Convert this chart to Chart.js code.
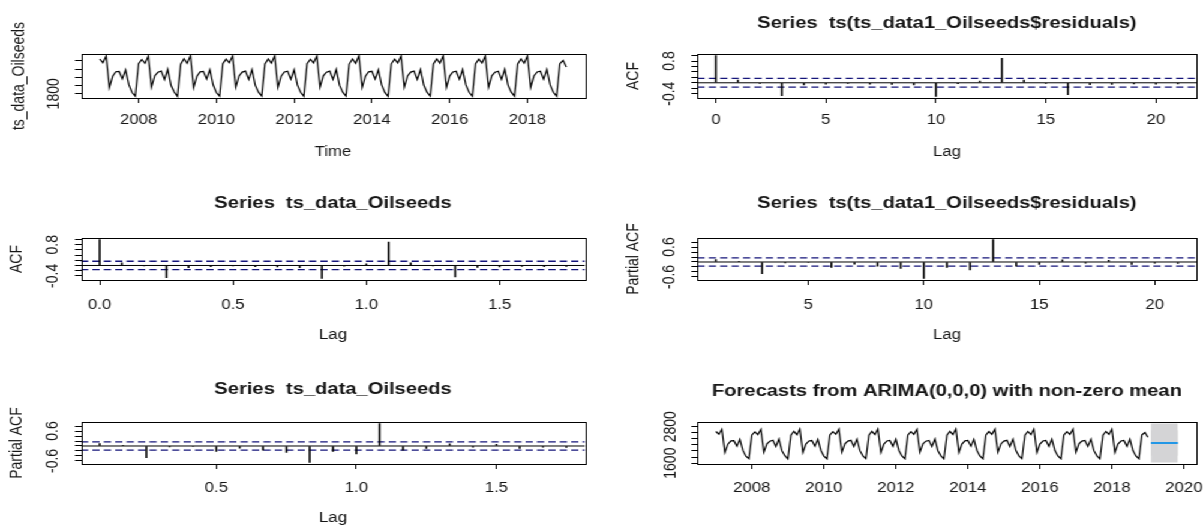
<!DOCTYPE html>
<html>
<head>
<meta charset="utf-8">
<script src="https://cdn.jsdelivr.net/npm/chart.js@4.4.0/dist/chart.umd.min.js"></script>
<style>
  body { margin: 0; background: #fff; width: 1204px; height: 529px; overflow: hidden; }
  #page { position: absolute; left: 0; top: 0; height: 529px; transform-origin: 0 0; }
</style>
</head>
<body>
<div id="page"></div>
<script>
// ---- data ----
const startYear = 2007;   // monthly series, Jan 2007 .. Jan 2019
const oilseeds = [
  2642, 2551, 2716, 1948, 2224, 2335, 2341, 2160, 2380, 2020, 1830, 1745,
  2530, 2630, 2540, 2712, 1962, 2238, 2320, 2352, 2145, 2395, 2008, 1845, 1738,
  2518, 2648, 2536, 2724, 1950, 2226, 2331, 2344, 2158, 2384, 2018, 1832, 1742,
  2527, 2639, 2549, 2718, 1958, 2233, 2325, 2350, 2149, 2390, 2011, 1840, 1747,
  2521, 2645, 2541, 2721, 1953, 2228, 2330, 2346, 2155, 2386, 2016, 1836, 1740,
  2529, 2637, 2547, 2715, 1960, 2235, 2323, 2349, 2150, 2392, 2010, 1841, 1744,
  2520, 2646, 2539, 2722, 1951, 2227, 2333, 2345, 2157, 2385, 2017, 1835, 1739,
  2526, 2640, 2548, 2717, 1957, 2232, 2326, 2351, 2148, 2389, 2012, 1839, 1746,
  2522, 2644, 2542, 2720, 1954, 2229, 2329, 2347, 2154, 2387, 2015, 1837, 1741,
  2528, 2638, 2546, 2716, 1959, 2234, 2324, 2348, 2151, 2391, 2011, 1840, 1743,
  2523, 2643, 2543, 2719, 1955, 2230, 2328, 2346, 2153, 2388, 2014, 1838, 1742,
  2530, 2610, 2450
];

const acfLags = [0, 1, 2, 3, 4, 5, 6, 7, 8, 9, 10, 11, 12, 13, 14, 15, 16, 17, 18, 19, 20, 21];
const acfValues = [1.00, 0.10, -0.02, -0.47, -0.08, -0.05, -0.02, -0.05, -0.06, -0.08, -0.50,
                   -0.03, 0.06, 0.90, 0.10, -0.02, -0.44, -0.07, -0.06, -0.04, -0.05, -0.04];
const pacfLags = [1, 2, 3, 4, 5, 6, 7, 8, 9, 10, 11, 12, 13, 14, 15, 16, 17, 18, 19, 20, 21];
const pacfValues = [0.10, 0.03, -0.47, -0.04, -0.02, -0.22, -0.09, -0.17, -0.26, -0.66, -0.22,
                    -0.32, 0.90, -0.17, -0.10, 0.09, -0.05, 0.07, -0.10, -0.05, -0.06];

// ARIMA(0,0,0) forecast, 10 months ahead
const fcMean = [2263, 2263, 2263, 2263, 2263, 2263, 2263, 2263, 2263, 2263];
const fcLo80 = [1843, 1843, 1843, 1843, 1843, 1843, 1843, 1843, 1843, 1843];
const fcHi80 = [2683, 2683, 2683, 2683, 2683, 2683, 2683, 2683, 2683, 2683];
const fcLo95 = [1623, 1623, 1623, 1623, 1623, 1623, 1623, 1623, 1623, 1623];
const fcHi95 = [2903, 2903, 2903, 2903, 2903, 2903, 2903, 2903, 2903, 2903];

// ticks
const yearTicks = [2008, 2010, 2012, 2014, 2016, 2018];
const fcYearTicks = [2008, 2010, 2012, 2014, 2016, 2018, 2020];
const lagTicks = [0, 5, 10, 15, 20];
const pacfLagTicks = [5, 10, 15, 20];
const lagYearTicks = [0, 0.5, 1, 1.5];
const pacfYearTicks = [0.5, 1, 1.5];
const tsYTicks = [1800, 2000, 2200, 2400, 2600];
const tsYShown = [1800];
const fcYTicks = [1600, 1800, 2000, 2200, 2400, 2600, 2800];
const fcYShown = [1600, 2800];
const acfYTicks = [-0.4, -0.2, 0, 0.2, 0.4, 0.6, 0.8, 1.0];
const acfYShown = [-0.4, 0.8];
const pacfYTicks = [-0.6, -0.4, -0.2, 0, 0.2, 0.4, 0.6, 0.8];
const pacfYShown = [-0.6, 0.6];

// ---- look ----
const S = 1.2;                       // the reference is stretched sideways
const FONT = "'Liberation Sans', Arial, sans-serif";
const TICK_SIZE = 14, LAB_SIZE = 14, MAIN_SIZE = 16.8;
const INK = '#161616';
const CI_COLOR = '#15157a';
const SHADE = '#d4d4d6';
const TL = 5;

document.getElementById('page').style.width = (1204 / S) + 'px';
document.getElementById('page').style.transform = 'scaleX(' + S + ')';

// R pads axis ranges by 4% each side
function rRange(vals) {
  const lo = Math.min(...vals), hi = Math.max(...vals), d = (hi - lo) * 0.04;
  return [lo - d, hi + d];
}

const measure = document.createElement('canvas').getContext('2d');
function textW(t, size) {
  measure.font = size + 'px ' + FONT;
  return measure.measureText(t).width;
}

const frame = {
  id: 'frame',
  afterDraw(chart) {
    const { ctx, chartArea: a } = chart;
    ctx.save();
    ctx.strokeStyle = '#000';
    ctx.lineWidth = 1;
    ctx.strokeRect(Math.round(a.left) + 0.5, Math.round(a.top) + 0.5,
                   Math.round(a.right - a.left), Math.round(a.bottom - a.top));
    ctx.restore();
  }
};

function font(size, bold) {
  return { family: FONT, size: size, weight: bold ? 'bold' : 'normal', lineHeight: 1.2 };
}

function makePanel(p) {
  const cv = document.createElement('canvas');
  const cx = p.cell.x / S;
  const cw = Math.round(p.cell.w / S);
  cv.width = cw;
  cv.height = p.cell.h;
  cv.style.cssText = 'position:absolute;left:' + cx + 'px;top:' + p.cell.y + 'px;width:' + cw + 'px;height:' + p.cell.h + 'px';
  document.getElementById('page').appendChild(cv);

  const boxL = p.box.l / S - cx, boxR = p.box.r / S - cx;
  const boxT = p.box.t - p.cell.y, boxB = p.box.b - p.cell.y;
  const tickLH = TICK_SIZE * 1.2, labLH = LAB_SIZE * 1.2, mainLH = MAIN_SIZE * 1.2;

  const shown = p.yTicks.filter(v => p.yShown.includes(v)).map(p.yFmt);
  const widest = Math.max(...shown.map(t => textW(t, TICK_SIZE)));
  const yTickPad = boxL - TL - widest / 2 - (p.yLabelX / S - cx);
  const xTickPad = p.xLabelY - p.box.b - TL - tickLH / 2;
  const titleTop = p.title ? p.titleY - p.cell.y - mainLH / 2 : 0;

  new Chart(cv, {
    type: 'line',
    data: { datasets: p.datasets },
    options: {
      responsive: false,
      animation: false,
      events: [],
      layout: { padding: { left: 0, top: p.title ? 0 : boxT, right: cw - boxR, bottom: 0 } },
      plugins: {
        legend: { display: false },
        tooltip: { enabled: false },
        title: p.title ? {
          display: true, text: p.title, fullSize: false, color: INK,
          font: font(MAIN_SIZE, true),
          padding: { top: titleTop, bottom: boxT - titleTop - mainLH }
        } : { display: false }
      },
      scales: {
        x: {
          type: 'linear', min: p.xr[0], max: p.xr[1], offset: false, bounds: 'data',
          afterBuildTicks: s => { s.ticks = p.xTicks.map(v => ({ value: v })); },
          afterFit: s => { s.height = p.cell.h - boxB; s.paddingLeft = 0; s.paddingRight = 0; },
          grid: { drawOnChartArea: false, drawTicks: true, tickLength: TL, color: '#000', offset: false },
          border: { display: false },
          ticks: { autoSkip: false, maxRotation: 0, minRotation: 0, padding: xTickPad,
                   color: INK, font: font(TICK_SIZE), callback: v => p.xFmt(v) },
          title: p.xTitle ? {
            display: true, text: p.xTitle, color: INK, font: font(LAB_SIZE),
            padding: { top: 0, bottom: p.cell.y + p.cell.h - p.xTitleY - labLH / 2 }
          } : { display: false }
        },
        y: {
          type: 'linear', min: p.yr[0], max: p.yr[1], bounds: 'data',
          afterBuildTicks: s => { s.ticks = p.yTicks.map(v => ({ value: v })); },
          afterFit: s => { s.width = boxL; s.paddingTop = 0; s.paddingBottom = 0; },
          grid: { drawOnChartArea: false, drawTicks: true, tickLength: TL, color: '#000' },
          border: { display: false },
          ticks: { autoSkip: false, minRotation: 90, maxRotation: 90, crossAlign: 'center',
                   padding: yTickPad, color: INK, font: font(TICK_SIZE),
                   callback: v => p.yShown.includes(v) ? p.yFmt(v) : '' },
          title: p.yTitle ? {
            display: true, text: p.yTitle, color: INK, font: font(LAB_SIZE),
            padding: { top: p.yTitleX / S - cx - labLH / 2, bottom: 0 }
          } : { display: false }
        }
      }
    },
    plugins: [frame]
  });
}

// ---- dataset builders ----
function seriesLine() {
  return {
    data: oilseeds.map((v, i) => ({ x: startYear + i / 12, y: v })),
    borderColor: '#000', borderWidth: 1.2, pointRadius: 0, tension: 0
  };
}
function spikes(lags, vals) {
  return {
    type: 'bar',
    data: lags.map((l, i) => ({ x: l, y: vals[i] })),
    backgroundColor: '#000', borderWidth: 0, barThickness: 0.95, grouped: false
  };
}
function hline(xr, y, color, dash, w) {
  return {
    data: [{ x: xr[0], y: y }, { x: xr[1], y: y }],
    borderColor: color, borderWidth: w || 1, borderDash: dash || [], pointRadius: 0
  };
}

const ci = 1.96 / Math.sqrt(oilseeds.length);
const fmt1 = v => v.toFixed(1);
const fmtInt = v => String(v);

function acfSets(xs, vals, xr) {
  return [
    spikes(xs, vals),
    hline(xr, 0, '#000'),
    hline(xr, ci, CI_COLOR, [6, 3.5], 1.3),
    hline(xr, -ci, CI_COLOR, [6, 3.5], 1.3)
  ];
}

// ---- panels ----
const tsTimes = oilseeds.map((v, i) => startYear + i / 12);
const fcTimes = fcMean.map((v, i) => startYear + (oilseeds.length + i) / 12);

const tsXr = rRange(tsTimes);
makePanel({
  cell: { x: 0, y: 0, w: 602, h: 176 }, box: { l: 81, t: 54, r: 585, b: 98 },
  xr: tsXr, yr: rRange(oilseeds),
  xTicks: yearTicks, xFmt: fmtInt, yTicks: tsYTicks, yShown: tsYShown, yFmt: fmtInt,
  xTitle: 'Time', yTitle: 'ts_data_Oilseeds',
  xLabelY: 120, xTitleY: 152, yTitleX: 19, yLabelX: 54,
  datasets: [seriesLine()]
});

const acfXr = rRange(acfLags);
makePanel({
  cell: { x: 602, y: 0, w: 602, h: 176 }, box: { l: 697, t: 54, r: 1196, b: 98 },
  title: 'Series  ts(ts_data1_Oilseeds$residuals)', titleY: 23,
  xr: acfXr, yr: rRange(acfValues.concat([ci, -ci])),
  xTicks: lagTicks, xFmt: fmtInt, yTicks: acfYTicks, yShown: acfYShown, yFmt: fmt1,
  xTitle: 'Lag', yTitle: 'ACF',
  xLabelY: 120, xTitleY: 152, yTitleX: 633, yLabelX: 669,
  datasets: acfSets(acfLags, acfValues, acfXr)
});

const acfYears = acfLags.map(l => l / 12);
const acfYearXr = rRange(acfYears);
makePanel({
  cell: { x: 0, y: 176, w: 602, h: 177 }, box: { l: 81, t: 238, r: 585, b: 280 },
  title: 'Series  ts_data_Oilseeds', titleY: 203,
  xr: acfYearXr, yr: rRange(acfValues.concat([ci, -ci])),
  xTicks: lagYearTicks, xFmt: fmt1, yTicks: acfYTicks, yShown: acfYShown, yFmt: fmt1,
  xTitle: 'Lag', yTitle: 'ACF',
  xLabelY: 305, xTitleY: 335, yTitleX: 17, yLabelX: 53,
  datasets: acfSets(acfYears, acfValues, acfYearXr)
});

const pacfXr = rRange(pacfLags);
makePanel({
  cell: { x: 602, y: 176, w: 602, h: 177 }, box: { l: 697, t: 238, r: 1196, b: 280 },
  title: 'Series  ts(ts_data1_Oilseeds$residuals)', titleY: 203,
  xr: pacfXr, yr: rRange(pacfValues.concat([ci, -ci])),
  xTicks: pacfLagTicks, xFmt: fmtInt, yTicks: pacfYTicks, yShown: pacfYShown, yFmt: fmt1,
  xTitle: 'Lag', yTitle: 'Partial ACF',
  xLabelY: 305, xTitleY: 335, yTitleX: 633, yLabelX: 669,
  datasets: acfSets(pacfLags, pacfValues, pacfXr)
});

const pacfYears = pacfLags.map(l => l / 12);
const pacfYearXr = rRange(pacfYears);
makePanel({
  cell: { x: 0, y: 353, w: 602, h: 176 }, box: { l: 81, t: 422, r: 585, b: 464 },
  title: 'Series  ts_data_Oilseeds', titleY: 389,
  xr: pacfYearXr, yr: rRange(pacfValues.concat([ci, -ci])),
  xTicks: pacfYearTicks, xFmt: fmt1, yTicks: pacfYTicks, yShown: pacfYShown, yFmt: fmt1,
  xTitle: 'Lag', yTitle: 'Partial ACF',
  xLabelY: 488, xTitleY: 518, yTitleX: 17, yLabelX: 53,
  datasets: acfSets(pacfYears, pacfValues, pacfYearXr)
});

const band = (vals, fill) => ({
  data: fcTimes.map((t, i) => ({ x: t, y: vals[i] })),
  borderColor: 'transparent', borderWidth: 1, pointRadius: 0,
  fill: fill, backgroundColor: fill ? SHADE : 'transparent'
});
makePanel({
  cell: { x: 602, y: 353, w: 602, h: 176 }, box: { l: 697, t: 422, r: 1196, b: 464 },
  title: 'Forecasts from ARIMA(0,0,0) with non-zero mean', titleY: 391,
  xr: rRange(tsTimes.concat(fcTimes)), yr: rRange(oilseeds.concat(fcLo95, fcHi95)),
  xTicks: fcYearTicks, xFmt: fmtInt, yTicks: fcYTicks, yShown: fcYShown, yFmt: fmtInt,
  xLabelY: 488, yLabelX: 671,
  datasets: [
    seriesLine(),
    { data: fcTimes.map((t, i) => ({ x: t, y: fcMean[i] })), borderColor: '#2297E6', borderWidth: 2.2, pointRadius: 0 },
    band(fcLo80, false),
    band(fcHi80, '-1'),
    band(fcLo95, false),
    band(fcHi95, '-1')
  ]
});
</script>
</body>
</html>
